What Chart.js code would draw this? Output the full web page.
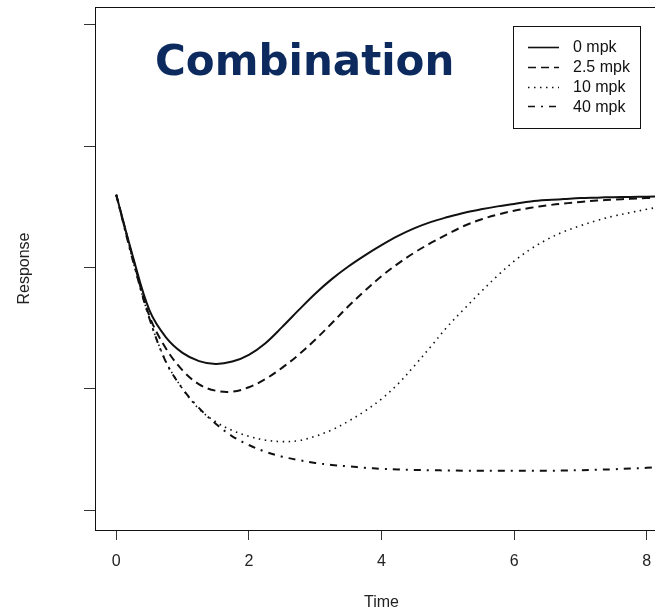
<!DOCTYPE html>
<html>
<head>
<meta charset="utf-8">
<script src="https://cdn.jsdelivr.net/npm/chart.js@4.4.1/dist/chart.umd.min.js"></script>
<style>
    html, body { margin: 0; padding: 0; background: #fff; overflow: hidden; }
    #wrap { position: relative; width: 680px; height: 610px; }
</style>
</head>
<body>
<div id="wrap"><canvas id="responseChart"></canvas></div>
<script>
// ===== Data =====
const timePoints = [0, 0.25, 0.5, 0.75, 1, 1.25, 1.5, 1.75, 2, 2.25, 2.5, 2.75, 3, 3.25, 3.5, 3.75, 4,
    4.25, 4.5, 4.75, 5, 5.25, 5.5, 5.75, 6, 6.25, 6.5, 6.75, 7, 7.25, 7.5, 7.75, 8, 8.25, 8.4];

const resp0mpk = [65, 52.3, 41.2, 35.6, 32.4, 30.7, 30.1, 30.6, 32.0, 34.4, 37.7, 41.2, 44.6, 47.6, 50.2, 52.5, 54.6,
    56.5, 58.1, 59.4, 60.4, 61.3, 62.0, 62.6, 63.1, 63.6, 63.9, 64.1, 64.3, 64.4, 64.5, 64.55, 64.6, 64.65, 64.7];

const resp2_5mpk = [65, 52, 40.0, 33.3, 28.8, 25.9, 24.6, 24.4, 25.3, 27.0, 29.3, 32.0, 35.1, 38.5, 42.0, 45.2, 48.2,
    50.8, 53.1, 55.1, 56.9, 58.6, 59.9, 60.9, 61.7, 62.3, 62.8, 63.2, 63.5, 63.8, 64.0, 64.15, 64.3, 64.4, 64.45];

const resp10mpk = [65, 51.5, 39.5, 30.6, 25.0, 20.8, 18.2, 16.4, 15.2, 14.4, 14.1, 14.3, 15.2, 16.5, 18.3, 20.4, 22.9,
    26.0, 29.8, 33.8, 37.9, 41.5, 45.0, 48.3, 51.3, 53.8, 55.8, 57.4, 58.6, 59.7, 60.6, 61.3, 62.0, 62.6, 62.9];

const resp40mpk = [65, 51.5, 39.5, 30.5, 25.0, 21.0, 17.8, 15.2, 13.4, 12.0, 11.0, 10.3, 9.7, 9.3, 9.0, 8.7, 8.5,
    8.35, 8.25, 8.2, 8.15, 8.1, 8.1, 8.1, 8.1, 8.1, 8.1, 8.15, 8.2, 8.3, 8.4, 8.55, 8.7, 8.85, 8.95];

const doseLabels = ['0 mpk', '2.5 mpk', '10 mpk', '40 mpk'];
const xTickValues = [0, 2, 4, 6, 8];
const yTickValues = [0, 25, 50, 75, 100];

const seriesValues = [resp0mpk, resp2_5mpk, resp10mpk, resp40mpk];
const lineDashes = [[], [8, 5], [1.5, 4.5], [7, 6, 2, 6]];
const lineWidths = [2, 2, 1.6, 2];

const FONT = '"Liberation Sans", Arial, sans-serif';

// Box around the plot region
const frameBox = {
    id: 'frameBox',
    afterDatasetsDraw(chart) {
        const { ctx, chartArea } = chart;
        ctx.save();
        ctx.strokeStyle = '#111';
        ctx.lineWidth = 1;
        ctx.strokeRect(Math.round(chartArea.left) + 0.5, Math.round(chartArea.top) + 0.5,
            Math.round(chartArea.right - chartArea.left), Math.round(chartArea.bottom - chartArea.top));
        ctx.restore();
    }
};

// Big title + boxed legend inside the plot
const overlayText = {
    id: 'overlayText',
    afterDraw(chart) {
        const ctx = chart.ctx;
        ctx.save();

        ctx.fillStyle = '#0c2a5e';
        ctx.font = 'bold 42px "DejaVu Sans", Verdana, sans-serif';
        ctx.textBaseline = 'alphabetic';
        ctx.textAlign = 'left';
        ctx.fillText('Combination', 155, 75);

        // legend
        ctx.fillStyle = '#fff';
        ctx.fillRect(513.5, 26.5, 127, 102);
        ctx.strokeStyle = '#111';
        ctx.lineWidth = 1;
        ctx.strokeRect(513.5, 26.5, 127, 102);

        ctx.font = '16px ' + FONT;
        ctx.textBaseline = 'middle';
        chart.data.datasets.forEach((ds, i) => {
            const y = 47 + i * 19.8;
            ctx.beginPath();
            ctx.setLineDash(ds.borderDash);
            ctx.lineWidth = ds.borderWidth === 2 ? 1.6 : 1.3;
            ctx.strokeStyle = '#111';
            ctx.moveTo(528, Math.round(y) + 0.5);
            ctx.lineTo(559, Math.round(y) + 0.5);
            ctx.stroke();
            ctx.setLineDash([]);
            ctx.fillStyle = '#111';
            ctx.fillText(ds.label, 573, y + 1);
        });
        ctx.restore();
    }
};

const ctx = document.getElementById('responseChart').getContext('2d');

new Chart(ctx, {
    type: 'line',
    data: {
        datasets: doseLabels.map((label, i) => ({
            label: label,
            data: timePoints.map((t, j) => ({ x: t, y: seriesValues[i][j] })),
            borderColor: '#111',
            borderWidth: lineWidths[i],
            borderDash: lineDashes[i],
            pointRadius: 0,
            fill: false,
            tension: 0.35
        }))
    },
    options: {
        responsive: true,
        maintainAspectRatio: false,
        animation: false,
        layout: {
            padding: { top: 7, right: 12, left: 0, bottom: 0 }
        },
        plugins: {
            legend: { display: false },
            tooltip: { enabled: false }
        },
        scales: {
            x: {
                type: 'linear',
                min: -0.32,
                max: 8.32,
                afterBuildTicks: (scale) => {
                    scale.ticks = xTickValues.map(v => ({ value: v }));
                },
                afterFit: (scale) => { scale.height = 80; },
                ticks: {
                    color: '#222',
                    padding: 12,
                    font: { family: FONT, size: 16 },
                    callback: (v) => String(v)
                },
                grid: {
                    drawOnChartArea: false,
                    tickLength: 10,
                    color: '#333'
                },
                border: { display: false },
                title: {
                    display: true,
                    text: 'Time',
                    color: '#222',
                    font: { family: FONT, size: 16 },
                    padding: { top: 0, bottom: -2 }
                }
            },
            y: {
                type: 'linear',
                min: -4.12,
                max: 103.7,
                afterBuildTicks: (scale) => {
                    scale.ticks = yTickValues.map(v => ({ value: v }));
                },
                afterFit: (scale) => { scale.width = 95; },
                ticks: { display: false },
                grid: {
                    drawOnChartArea: false,
                    tickLength: 11,
                    color: '#333'
                },
                border: { display: false },
                title: {
                    display: true,
                    text: 'Response',
                    color: '#222',
                    font: { family: FONT, size: 16 },
                    padding: { top: 15, bottom: 0 }
                }
            }
        }
    },
    plugins: [frameBox, overlayText]
});
</script>
</body>
</html>
